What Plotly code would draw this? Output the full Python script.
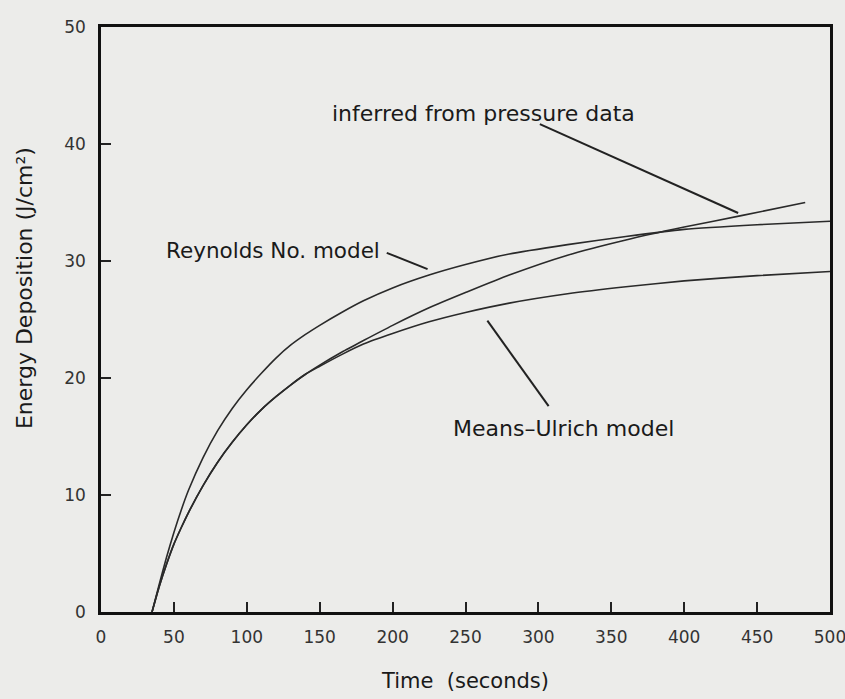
import plotly.graph_objects as go

# ---- data ----
time_reynolds = [35, 40, 45, 50, 55, 60, 70, 80, 90, 100, 110, 120, 130, 140, 150, 165, 180, 200, 225, 250, 280, 320, 360, 400, 450, 500]
reynolds = [0, 2.4, 4.7, 6.8, 8.7, 10.4, 13.2, 15.5, 17.4, 19.0, 20.4, 21.7, 22.8, 23.7, 24.5, 25.6, 26.6, 27.7, 28.8, 29.7, 30.6, 31.4, 32.1, 32.7, 33.1, 33.4]

time_inferred = [35, 40, 45, 50, 55, 60, 70, 80, 90, 100, 110, 120, 130, 140, 150, 165, 180, 200, 225, 250, 280, 320, 360, 400, 440, 483]
inferred = [0, 2.2, 4.1, 5.8, 7.2, 8.5, 10.8, 12.8, 14.5, 16.0, 17.3, 18.4, 19.4, 20.3, 21.1, 22.2, 23.2, 24.5, 26.0, 27.3, 28.8, 30.5, 31.8, 32.9, 33.9, 35.0]

time_means = [35, 40, 45, 50, 55, 60, 70, 80, 90, 100, 110, 120, 130, 140, 150, 165, 180, 200, 225, 250, 280, 320, 360, 400, 450, 500]
means_ulrich = [0, 2.2, 4.1, 5.8, 7.2, 8.5, 10.8, 12.8, 14.5, 16.0, 17.3, 18.4, 19.4, 20.3, 21.0, 22.0, 22.9, 23.8, 24.8, 25.6, 26.4, 27.2, 27.8, 28.3, 28.75, 29.1]

x_ticks = [0, 50, 100, 150, 200, 250, 300, 350, 400, 450, 500]
y_ticks = [0, 10, 20, 30, 40, 50]

label_text = ["inferred from pressure data", "Reynolds No. model", "Means\u2013Ulrich model"]
label_x = [262, 118, 317]
label_y = [42.6, 30.9, 15.7]
leader_x0 = [301, 196, 265]
leader_y0 = [41.7, 30.7, 24.9]
leader_x1 = [437, 224, 307]
leader_y1 = [34.1, 29.3, 17.6]

BG = "#ececea"
INK = "#1a1a1a"
FONT = "DejaVu Sans"
label_sizes = [22, 21.5, 22]

fig = go.Figure()
for xs, ys in [(time_reynolds, reynolds), (time_inferred, inferred), (time_means, means_ulrich)]:
    fig.add_trace(go.Scatter(x=xs, y=ys, mode="lines",
                             line=dict(color="#2a2a2a", width=1.6, shape="spline", smoothing=0.6),
                             showlegend=False, hoverinfo="skip"))

for t, x, y, s in zip(label_text, label_x, label_y, label_sizes):
    fig.add_annotation(x=x, y=y, xref="x", yref="y", text=t, showarrow=False,
                       font=dict(family=FONT, size=s, color=INK))
for x0, y0, x1, y1 in zip(leader_x0, leader_y0, leader_x1, leader_y1):
    fig.add_shape(type="line", xref="x", yref="y", x0=x0, y0=y0, x1=x1, y1=y1,
                  line=dict(color="#222", width=2))

# y-axis title (rotated text; in the reference it sits above the axis centre)
fig.add_annotation(x=-0.104, y=0.554, xref="paper", yref="paper", text="Energy Deposition (J/cm\u00b2)",
                   textangle=-90, showarrow=False, xanchor="center", yanchor="middle",
                   font=dict(family=FONT, size=22, color=INK))

fig.update_xaxes(range=[0, 500], tickvals=x_ticks, ticks="inside", ticklen=10, tickwidth=1.5,
                 tickcolor="#222", showline=True, linecolor="#111", linewidth=2.5, mirror=True,
                 showgrid=False, zeroline=False, ticklabelstandoff=8, ticklabeloverflow="allow",
                 automargin=False,
                 tickfont=dict(family=FONT, size=17, color="#333"),
                 title=dict(text="Time  (seconds)", font=dict(family=FONT, size=21, color=INK), standoff=28))
fig.update_yaxes(range=[0, 50], tickvals=y_ticks, ticks="inside", ticklen=10, tickwidth=1.5,
                 tickcolor="#222", showline=True, linecolor="#111", linewidth=2.5, mirror=True,
                 showgrid=False, zeroline=False, ticklabelstandoff=9, ticklabeloverflow="allow",
                 automargin=False,
                 tickfont=dict(family=FONT, size=17, color="#333"))

fig.update_layout(width=845, height=699, paper_bgcolor=BG, plot_bgcolor=BG,
                  margin=dict(l=101, r=15, t=27, b=87, autoexpand=False))

fig.write_html("out.html", config={"displayModeBar": False},
               post_script="document.body.style.margin='0';document.body.style.overflow='hidden';")
